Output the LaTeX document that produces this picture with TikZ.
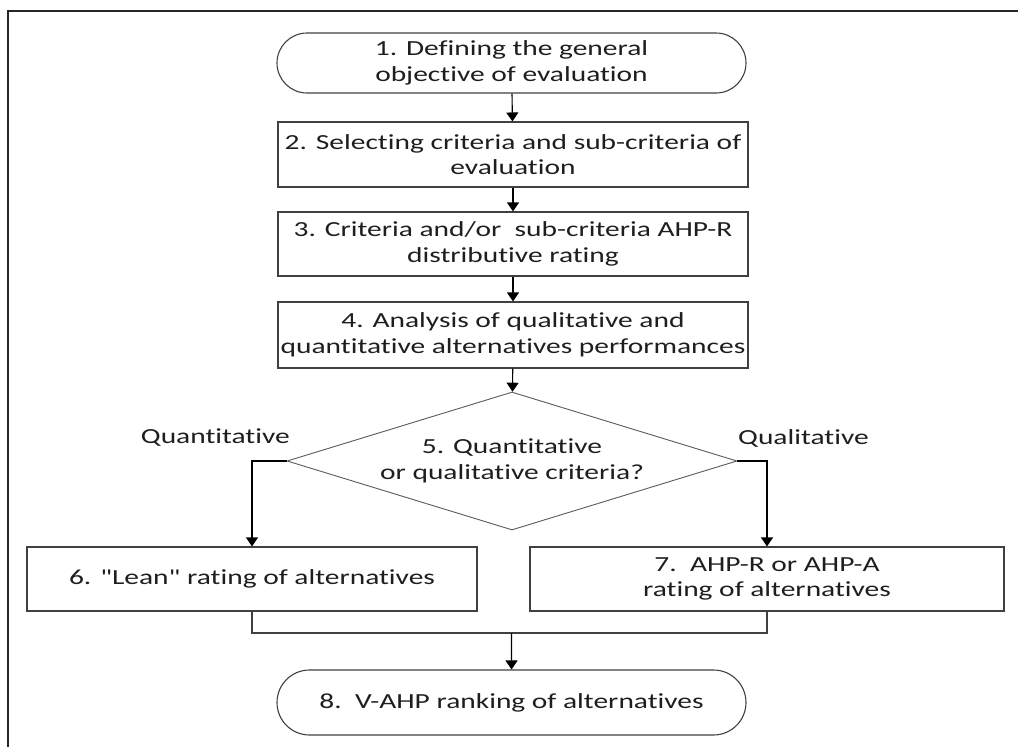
\documentclass[tikz,border=0pt]{standalone}
\usepackage{fontspec}
\setmainfont{Carlito}[FakeStretch=1.37,Ligatures={TeXOff,NoCommon}]
\usetikzlibrary{arrows.meta,shapes.geometric,shapes.misc}
\definecolor{FCLine}{HTML}{404040}
\definecolor{FCSoft}{HTML}{5A5A5A}
\definecolor{FCText}{HTML}{1E1E1E}
\tikzset{
  flow/.style={-{Triangle[length=9pt,width=12pt]},black,line width=1.1pt},
  joinline/.style={FCLine,line width=1.1pt},
  frameline/.style={black!85,line width=1.3pt},
  stepbox/.style={draw=FCLine,line width=1.1pt,text=FCText,align=center,inner sep=0pt,
                  minimum width=470pt,minimum height=65pt,
                  font=\fontsize{21.5}{25.5}\selectfont},
  terminal/.style={stepbox,rounded rectangle,minimum width=469pt},
  decision/.style={stepbox,draw=FCSoft,line width=0.9pt,diamond,aspect=3.26,
                   minimum width=450pt,minimum height=138pt},
  branchlabel/.style={text=FCText,inner sep=0pt,font=\fontsize{21.5}{25.5}\selectfont},
}
\begin{document}
\begin{tikzpicture}[x=1pt,y=-1pt]
    \useasboundingbox (0,0) rectangle (1018,747);
    % page frame, cut at the right and bottom
    \draw[frameline] (8,760) -- (8,11) -- (1030,11);

    % main column
    \node[terminal,minimum height=60pt] (define) at (511.5,63)
      {1. Defining the general\\objective of evaluation};
    \node[stepbox] (select) at (513,154.5)
      {2. Selecting criteria and sub-criteria of\\evaluation};
    \node[stepbox,minimum height=64pt] (weight) at (513,244)
      {3. Criteria and/or\ \ sub-criteria AHP-R\\distributive rating};
    \node[stepbox,minimum height=66pt] (analyse) at (513,335)
      {4. Analysis of qualitative and\\quantitative alternatives performances};
    \node[decision] (choice) at (512,461)
      {5. Quantitative\\or qualitative criteria?};

    % the two branches
    \node[branchlabel,anchor=east] (quantlbl) at (290,438) {Quantitative};
    \node[branchlabel,anchor=west] (quallbl) at (738,438) {Qualitative};
    \node[stepbox,minimum width=450pt,minimum height=64pt] (lean) at (252,579)
      {6. "Lean" rating of alternatives};
    \node[stepbox,minimum width=474pt,minimum height=64pt] (ahp) at (767,579)
      {7.\ \ AHP-R or AHP-A\\rating of alternatives};

    \node[terminal,minimum height=65pt] (rank) at (511.5,702.5)
      {8.\ \ V-AHP ranking of alternatives};
    \coordinate (merge) at (511.5,633);

    \draw[flow] (define) -- (select);
    \draw[flow] (select) -- (weight);
    \draw[flow] (weight) -- (analyse);
    \draw[flow] (analyse) -- (choice);
    \draw[flow] (choice.west) -| (lean.north);
    \draw[flow] (choice.east) -| (ahp.north);
    \draw[joinline] (lean.south) |- (merge) -| (ahp.south);
    \draw[flow] (merge) -- (rank);
\end{tikzpicture}
\end{document}
